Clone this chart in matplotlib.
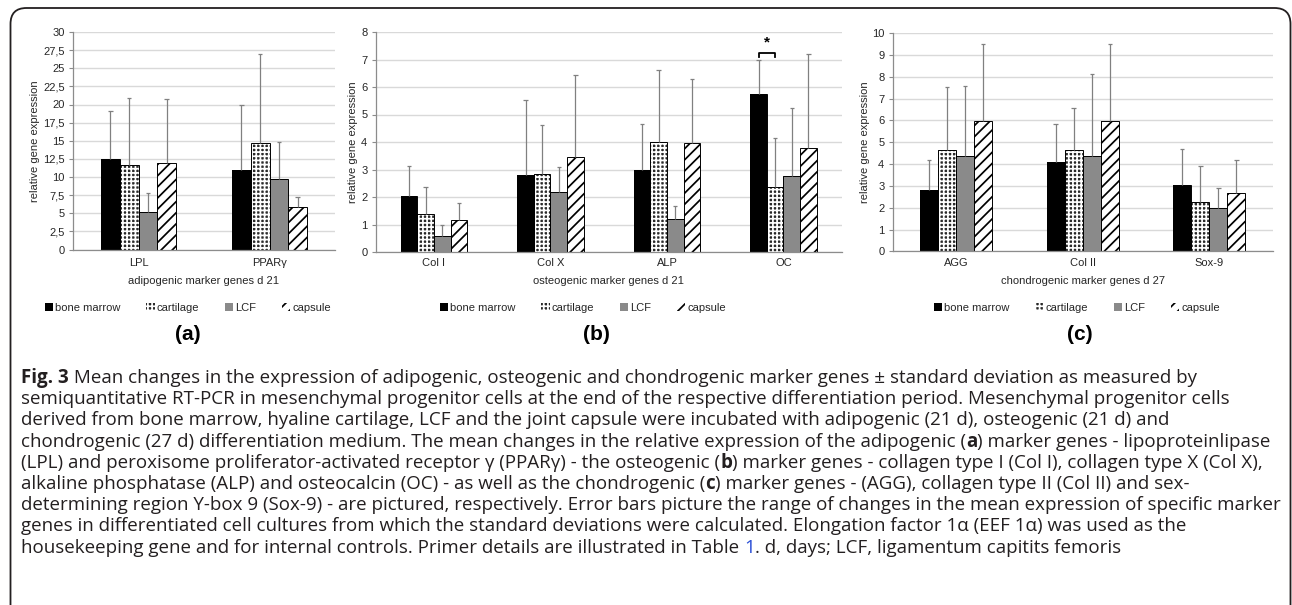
import matplotlib
matplotlib.use('Agg')
import matplotlib.pyplot as plt
from matplotlib.patches import Patch, FancyBboxPatch
import numpy as np

W, H, DPI = 1292, 605, 100

# ---------------- data ----------------
series_names = ['bone marrow', 'cartilage', 'LCF', 'capsule']

adipo_genes = ['LPL', 'PPARγ']
adipo_bone_marrow = [12.5, 10.95]
adipo_cartilage = [11.6, 14.7]
adipo_lcf = [5.2, 9.75]
adipo_capsule = [11.95, 5.9]
adipo_bone_marrow_sd = [6.6, 8.95]
adipo_cartilage_sd = [9.3, 12.3]
adipo_lcf_sd = [2.6, 5.05]
adipo_capsule_sd = [8.8, 1.3]
adipo_ticks = [0, 2.5, 5, 7.5, 10, 12.5, 15, 17.5, 20, 22.5, 25, 27.5, 30]
adipo_tick_labels = ['0', '2,5', '5', '7,5', '10', '12,5', '15', '17,5', '20',
                     '22,5', '25', '27,5', '30']

osteo_genes = ['Col I', 'Col X', 'ALP', 'OC']
osteo_bone_marrow = [2.05, 2.8, 2.97, 5.76]
osteo_cartilage = [1.38, 2.85, 4.0, 2.36]
osteo_lcf = [0.6, 2.2, 1.2, 2.75]
osteo_capsule = [1.15, 3.45, 3.97, 3.79]
osteo_bone_marrow_sd = [1.06, 2.73, 1.68, 1.21]
osteo_cartilage_sd = [0.98, 1.77, 2.62, 1.78]
osteo_lcf_sd = [0.38, 0.89, 0.48, 2.48]
osteo_capsule_sd = [0.62, 2.98, 2.31, 3.41]
osteo_ticks = [0, 1, 2, 3, 4, 5, 6, 7, 8]
osteo_tick_labels = ['0', '1', '2', '3', '4', '5', '6', '7', '8']
osteo_sig_pair = ('OC', 0, 1)      # gene, series a, series b
osteo_sig_level = 7.1

chondro_genes = ['AGG', 'Col II', 'Sox-9']
chondro_bone_marrow = [2.8, 4.11, 3.03]
chondro_cartilage = [4.66, 4.66, 2.25]
chondro_lcf = [4.37, 4.37, 1.99]
chondro_capsule = [5.98, 5.98, 2.68]
chondro_bone_marrow_sd = [1.37, 1.72, 1.66]
chondro_cartilage_sd = [2.86, 1.91, 1.65]
chondro_lcf_sd = [3.23, 3.75, 0.93]
chondro_capsule_sd = [3.52, 3.52, 1.49]
chondro_ticks = [0, 1, 2, 3, 4, 5, 6, 7, 8, 9, 10]
chondro_tick_labels = [str(t) for t in chondro_ticks]

ylabel_text = 'relative gene expression'
xlabels = ['adipogenic marker genes d 21', 'osteogenic marker genes d 21',
           'chondrogenic marker genes d 27']
panel_labels = ['(a)', '(b)', '(c)']

# ---------------- style ----------------
CHART_FONT = ['Liberation Sans', 'DejaVu Sans']
CAP_FONT = ['Open Sans', 'DejaVu Sans']
plt.rcParams['font.family'] = CHART_FONT
plt.rcParams['hatch.linewidth'] = 1.25

styles = [
    dict(face='black', hatch=None, hcolor=None),
    dict(face='#2a2a2a', hatch='++++', hcolor='white'),
    dict(face='#8a8a8a', hatch=None, hcolor=None),
    dict(face='white', hatch='///', hcolor='black'),
]
GRID = '#d9d9d9'
AXC = '#8c8c8c'
ERRC = '#808080'
TXT = '#262626'

fig = plt.figure(figsize=(W / DPI, H / DPI), dpi=DPI)


def rect(left, top, right, bottom):
    return [left / W, 1 - bottom / H, (right - left) / W, (bottom - top) / H]


def make_bar(ax, x, h, w, st, zo=2):
    ax.bar(x, h, w, color=st['face'],
           edgecolor=st['hcolor'] if st['hatch'] else st['face'],
           linewidth=0, hatch=st['hatch'], zorder=zo)
    ax.bar(x, h, w, fill=False, edgecolor='black', linewidth=0.7, zorder=zo + 0.1)


panels = [
    dict(box=(73, 32, 335, 249.5), genes=adipo_genes,
         vals=[adipo_bone_marrow, adipo_cartilage, adipo_lcf, adipo_capsule],
         sds=[adipo_bone_marrow_sd, adipo_cartilage_sd, adipo_lcf_sd, adipo_capsule_sd],
         ticks=adipo_ticks, tlabels=adipo_tick_labels, ylab_x=35, leg_cx=188, lab_cx=188),
    dict(box=(375.7, 32, 841.7, 252), genes=osteo_genes,
         vals=[osteo_bone_marrow, osteo_cartilage, osteo_lcf, osteo_capsule],
         sds=[osteo_bone_marrow_sd, osteo_cartilage_sd, osteo_lcf_sd, osteo_capsule_sd],
         ticks=osteo_ticks, tlabels=osteo_tick_labels, ylab_x=353, leg_cx=583, lab_cx=596),
    dict(box=(892.7, 33.3, 1272.7, 251.3), genes=chondro_genes,
         vals=[chondro_bone_marrow, chondro_cartilage, chondro_lcf, chondro_capsule],
         sds=[chondro_bone_marrow_sd, chondro_cartilage_sd, chondro_lcf_sd, chondro_capsule_sd],
         ticks=chondro_ticks, tlabels=chondro_tick_labels, ylab_x=865, leg_cx=1077, lab_cx=1080),
]

CAT_Y = 264
XLAB_Y = 280.5
LEG_Y = 308
PLAB_Y = 335
GROUP = 0.57

axes = []
for i, p in enumerate(panels):
    l, t, r, b = p['box']
    ax = fig.add_axes(rect(l, t, r, b))
    axes.append(ax)
    n = len(p['genes'])
    x = np.arange(n)
    bw = GROUP / 4
    ax_w_px = r - l
    cap_half = 2.2 / ax_w_px * n
    for s in range(4):
        xs = x + (s - 1.5) * bw
        make_bar(ax, xs, p['vals'][s], bw, styles[s])
        tops = np.array(p['vals'][s]) + np.array(p['sds'][s])
        ax.vlines(xs, p['vals'][s], tops, color=ERRC, lw=0.9, zorder=4)
        ax.hlines(tops, xs - cap_half, xs + cap_half, color=ERRC, lw=0.9, zorder=4)
    ax.set_xlim(-0.5, n - 0.5)
    ax.set_ylim(p['ticks'][0], p['ticks'][-1])
    ax.set_yticks(p['ticks'])
    ax.set_yticklabels(p['tlabels'])
    ax.set_xticks(x)
    ax.set_xticklabels(p['genes'])
    ax.grid(axis='y', color=GRID, lw=1.0, zorder=0)
    ax.set_axisbelow(True)
    for sp in ['top', 'right']:
        ax.spines[sp].set_visible(False)
    for sp in ['left', 'bottom']:
        ax.spines[sp].set_color(AXC)
        ax.spines[sp].set_linewidth(0.9)
        ax.spines[sp].set_zorder(5)
    ax.tick_params(axis='y', length=3, width=0.8, color=AXC, labelsize=8,
                   labelcolor=TXT, pad=3)
    ax.tick_params(axis='x', length=0, labelsize=8, labelcolor=TXT,
                   pad=(CAT_Y - b) * 72 / DPI - 4)
    ax.set_ylabel(ylabel_text, fontsize=8, color=TXT)
    ax.yaxis.set_label_coords((p['ylab_x'] - l) / (r - l), 0.5)
    ax.yaxis.label.set_va('center')
    ax.set_xlabel(xlabels[i], fontsize=8, color=TXT)
    ax.xaxis.set_label_coords(0.5, (b - XLAB_Y) / (b - t))
    ax.xaxis.label.set_va('center')

    handles = []
    for s in range(4):
        st = styles[s]
        hp = Patch(facecolor=st['face'], edgecolor=st['hcolor'] if st['hatch'] else st['face'],
                   hatch=st['hatch'], linewidth=0, label=series_names[s])
        handles.append(hp)
    leg = ax.legend(handles=handles, loc='center', ncol=4, frameon=False,
                    bbox_to_anchor=(p['leg_cx'] / W, 1 - LEG_Y / H),
                    bbox_transform=fig.transFigure, fontsize=8,
                    handlelength=0.75, handleheight=0.75, handletextpad=0.2,
                    columnspacing=2.3, borderpad=0, borderaxespad=0)
    for tx in leg.get_texts():
        tx.set_color(TXT)
    fig.text(p['lab_cx'] / W, 1 - PLAB_Y / H, panel_labels[i], ha='center',
             va='center', fontsize=15, fontweight='bold', color='black')

# significance bracket in (b)
axb = axes[1]
gi = osteo_genes.index(osteo_sig_pair[0])
bw = GROUP / 4
xa = gi + (osteo_sig_pair[1] - 1.5) * bw
xb = gi + (osteo_sig_pair[2] - 1.5) * bw
hgt = 0.15
axb.plot([xa, xa, xb, xb], [osteo_sig_level, osteo_sig_level + hgt,
                            osteo_sig_level + hgt, osteo_sig_level],
         color='black', lw=1.3, zorder=6, clip_on=False)
axb.text((xa + xb) / 2, osteo_sig_level + hgt + 0.12, '*', ha='center', va='bottom',
         fontsize=11, fontweight='bold', color='black', zorder=6)

# frame
frame = FancyBboxPatch((0.105, -0.6), 12.80, 5.97 + 0.6,
                       boxstyle='round,pad=0,rounding_size=0.16',
                       transform=fig.dpi_scale_trans, fill=False,
                       edgecolor='#231f20', linewidth=1.3)
fig.add_artist(frame)

# caption
caption_lines = [
    [('Fig. 3', 'b'), (' Mean changes in the expression of adipogenic, osteogenic and chondrogenic marker genes ± standard deviation as measured by', 'n')],
    [('semiquantitative RT-PCR in mesenchymal progenitor cells at the end of the respective differentiation period. Mesenchymal progenitor cells', 'n')],
    [('derived from bone marrow, hyaline cartilage, LCF and the joint capsule were incubated with adipogenic (21 d), osteogenic (21 d) and', 'n')],
    [('chondrogenic (27 d) differentiation medium. The mean changes in the relative expression of the adipogenic (', 'n'), ('a', 'b'), (') marker genes - lipoproteinlipase', 'n')],
    [('(LPL) and peroxisome proliferator-activated receptor γ (PPARγ) - the osteogenic (', 'n'), ('b', 'b'), (') marker genes - collagen type I (Col I), collagen type X (Col X),', 'n')],
    [('alkaline phosphatase (ALP) and osteocalcin (OC) - as well as the chondrogenic (', 'n'), ('c', 'b'), (') marker genes - (AGG), collagen type II (Col II) and sex-', 'n')],
    [('determining region Y-box 9 (Sox-9) - are pictured, respectively. Error bars picture the range of changes in the mean expression of specific marker', 'n')],
    [('genes in differentiated cell cultures from which the standard deviations were calculated. Elongation factor 1α (EEF 1α) was used as the', 'n')],
    [('housekeeping gene and for internal controls. Primer details are illustrated in Table ', 'n'), ('1', 'link'), ('. d, days; LCF, ligamentum capitits femoris', 'n')],
]

renderer = fig.canvas.get_renderer()


def kw_for(style, size):
    kw = dict(family=CAP_FONT, fontsize=size, color='#231f20')
    if style == 'b':
        kw['fontweight'] = 'bold'
    if style == 'link':
        kw['color'] = '#2a4fd6'
    return kw


def twidth(s, **kw):
    t = fig.text(0, 0, s, **kw)
    w = t.get_window_extent(renderer).width
    t.remove()
    return w


def rwidth(s, **kw):
    return twidth('|' + s + '|', **kw) - twidth('||', **kw)


def line_width(runs, size):
    return sum(rwidth(s, **kw_for(st, size)) for s, st in runs)


ref_size = 12.0
target = 1243.0
cap_size = ref_size * target / line_width(caption_lines[3], ref_size)

CAP_X = 21
CAP_BASE0 = 383
CAP_STEP = 21.2
for li, runs in enumerate(caption_lines):
    xx = CAP_X
    yy = CAP_BASE0 + li * CAP_STEP
    for s, st in runs:
        kw = kw_for(st, cap_size)
        fig.text(xx / W, 1 - yy / H, s, ha='left', va='baseline', **kw)
        xx += rwidth(s, **kw)

fig.savefig('out.png', dpi=DPI)
